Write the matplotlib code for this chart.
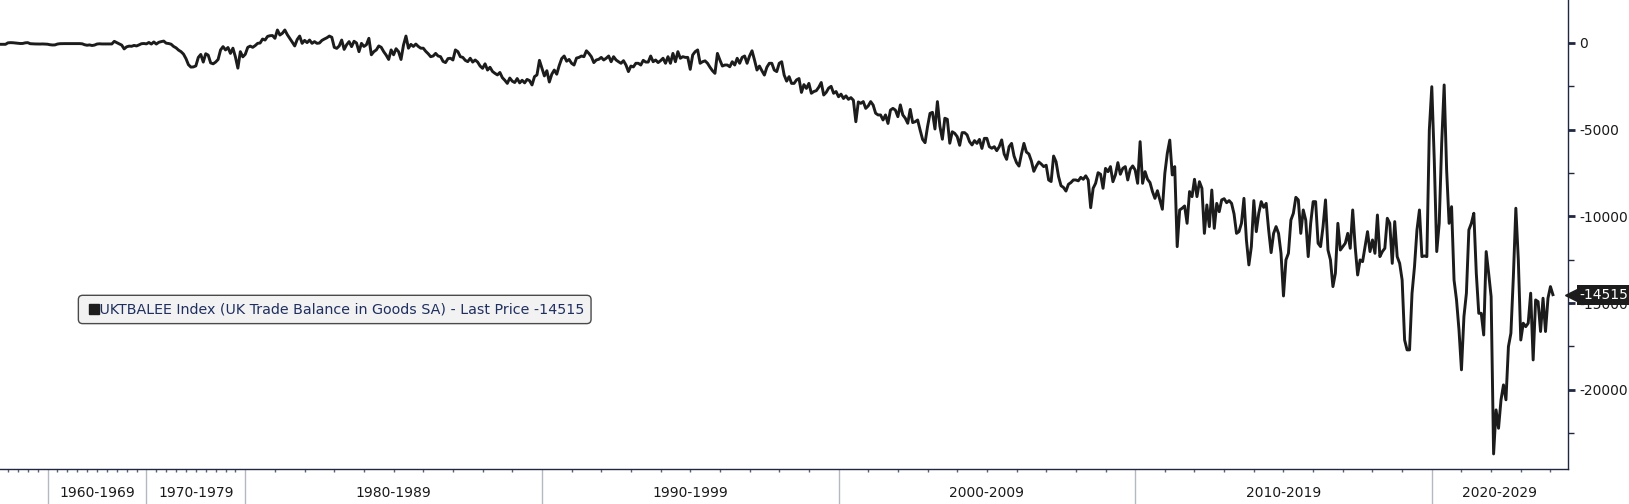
import numpy as np
import matplotlib.pyplot as plt

plt.rcParams['axes.unicode_minus'] = False
plt.rcParams['font.family'] = ['DejaVu Sans']

# quarterly values 1955Q1 - 1979Q4
q_1955_1979 = [-75, -75, -70, -75, 10, 20, 15, 0, -20, -30, -25, 10, 20,
               -40, -50, -55, -60, -60, -55, -60, -70, -100, -115, -110,
               -60, -40, -35, -35, -35, -40, -35, -35, -40, -35, -45,
               -100, -130, -110, -145, -120, -60, -45, -55, -55, -60, -55, -55,
               95, 20, -50, -120, -340, -220, -180, -190, -140, -170, -110, -40, -30, -50,
               30, -60, 60, -60, 40, 80, 110, -10, -30, -70,
               -200, -280, -410, -500, -640, -900, -1250, -1390, -1380, -1320,
               -830, -660, -1100, -620, -700, -1150, -1200, -1100, -950, -400,
               -210, -400, -260, -600, -300, -800, -1450, -500, -800]

# monthly values from 1980-01
m_1980s = [-650, -250, -180, -250, -150, -20, 0, 230, 170, 380, 420, 430,
           270, 750, 460, 560, 750, 480, 270, 50, -170, 200, 400, -20,
           150, 20, 170, -20, 80, -20, 0, 150, 230, 300, 400, 330,
           -250, -310, -170, 170, -370, -100, 80, -210, 100, 0, -500, -20,
           -200, -100, 270, -680, -500, -400, -170, -250, -500, -700, -950, -400,
           -680, -330, -500, -950, -120, 400, -300, -80, -200, -60, -200, -300,
           -300, -480, -620, -790, -750, -600, -750, -790, -1060, -1130, -900, -880,
           -980, -400, -500, -790, -830, -1000, -1076, -880, -1100, -980, -1100, -1330,
           -1460, -1200, -1560, -1400, -1640, -1750, -1840, -1700, -2000, -2150, -2330, -2020,
           -2200, -2280, -2050, -2300, -2150, -2300, -2100, -2170, -2420, -1940, -1840, -1000]
m_1990s = [-1450, -1900, -1600, -2250, -1800, -1560, -1800, -1300, -900, -750, -1050, -950,
           -1170, -1270, -870, -830, -750, -790, -450, -600, -790, -1130, -980, -940,
           -830, -980, -880, -750, -1080, -790, -980, -1080, -1170, -1020, -1270, -1650,
           -1330, -1380, -1170, -1170, -1270, -1000, -1100, -1100, -750, -1080, -980, -1130,
           -1020, -880, -1170, -790, -1170, -600, -1080, -500, -880, -790, -830, -830,
           -1520, -690, -500, -400, -1170, -1080, -1030, -1170, -1400, -1600, -1750, -600,
           -980, -1330, -1270, -1270, -1370, -1080, -1270, -880, -1170, -830, -750, -1170,
           -750, -450, -980, -1560, -1330, -1600, -1850, -1400, -1170, -1170, -1560, -1650,
           -1170, -1080, -1850, -2200, -1940, -2330, -2330, -2130, -2050, -2850, -2400, -2620,
           -2330, -2900, -2800, -2750, -2550, -2280, -3000, -2850, -2600, -2500, -2900, -2800]
m_2000s = [-3100, -2950, -3200, -3050, -3250, -3150, -3300, -4540, -3400, -3480, -3380, -3770,
           -3630, -3380, -3580, -4050, -4150, -4150, -4440, -4150, -4640, -3870, -3770, -3870,
           -4250, -3570, -4150, -4340, -4630, -3830, -4590, -4540, -4440, -5020, -5560, -5750,
           -4830, -4060, -4000, -4960, -3380, -4800, -5550, -4340, -4400, -5780, -5120, -5210,
           -5400, -5900, -5170, -5170, -5300, -5690, -5880, -5630, -5790, -5560, -6080, -5500,
           -5500, -5980, -6070, -5980, -6210, -5980, -5590, -6400, -6710, -5980, -5790, -6520,
           -6900, -7100, -6400, -5790, -6290, -6400, -6800, -7400, -7100, -6860, -6980, -7130,
           -7050, -7900, -7990, -6520, -6850, -7700, -8230, -8330, -8540, -8150, -8050, -7900,
           -7900, -7950, -7750, -7860, -7660, -7900, -9500, -8380, -8090, -7480, -7570, -8380,
           -7230, -7420, -7130, -8000, -7610, -6900, -7570, -7230, -7130, -7900, -7280, -7090]
m_2010s = [-7324, -8093, -5690, -8093, -7420, -7860, -8050, -8570, -8960, -8520, -9050, -9590,
           -7520, -6360, -5600, -7610, -7130, -11745, -9630, -9530, -9400, -10400, -8570, -8860,
           -7860, -8860, -8000, -8380, -10980, -9340, -10590, -8480, -10690, -9250, -9730, -9050,
           -8980, -9210, -9090, -9250, -9860, -10980, -10880, -10400, -8960, -11360, -12800, -11745,
           -9090, -10880, -9820, -9150, -9480, -9250, -10780, -12090, -10980, -10590, -10980, -12130,
           -14590, -12510, -12130, -10210, -9820, -8900, -9050, -10980, -9630, -10210, -12320, -10400,
           -9150, -9150, -11550, -11745, -10590, -9050, -11940, -12510, -14050, -13280, -10400, -11940,
           -11745, -11550, -10980, -11840, -9630, -11745, -13380, -12510, -12610, -11745, -10880, -12030,
           -11360, -12130, -9920, -12320, -12030, -11840, -10110, -10400, -12710, -10300, -12320, -12710,
           -13670, -17130, -17700, -17700, -14440, -12900, -10780, -9630, -12320, -12280, -12320, -5020]
m_2020s = [-2520, -6750, -12030, -10400, -5790, -2420, -7320, -10400, -9440, -13670, -14820, -16550,
           -18850, -15780, -14430, -10780, -10400, -9820, -13280, -15590, -15590, -16840, -12030, -13280,
           -14630, -23700, -21160, -22220, -20580, -19720, -20580, -17510, -16740, -13470, -9530, -12510,
           -17130, -16160, -16360, -16160, -14430, -18280, -14820, -14920, -16640, -14720, -16640, -14720,
           -14050, -14515]

decade_starts = [1960, 1970, 1980, 1990, 2000, 2010, 2020]
decade_labels = ['1960-1969', '1970-1979', '1980-1989', '1990-1999',
                 '2000-2009', '2010-2019', '2020-2029']
y_ticks = [0, -5000, -10000, -15000, -20000]
legend_text = 'UKTBALEE Index (UK Trade Balance in Goods SA) - Last Price -14515'

values = np.array(q_1955_1979 + m_1980s + m_1990s + m_2000s + m_2010s + m_2020s)
pos = np.arange(len(values))          # bloomberg style: one slot per observation
n_q = len(q_1955_1979)


def year_pos(y):
    if y < 1980:
        return 4 * (y - 1955)
    return n_q + 12 * (y - 1980)


navy = '#1f2840'
fig = plt.figure(figsize=(16.29, 5.04), dpi=100)
ax = fig.add_axes([0, 35 / 504, 1568 / 1629, 469 / 504])
ax.plot(pos, values, color='#1c1c1c', lw=2.1)

x_right = 635.1
ax.set_xlim(0.77, x_right)
ax.set_ylim(-24570, 2480)

for s in ['top', 'left']:
    ax.spines[s].set_visible(False)
for s in ['right', 'bottom']:
    ax.spines[s].set_color(navy)
    ax.spines[s].set_linewidth(1.0)

# y axis on the right
ax.yaxis.tick_right()
ax.set_yticks(y_ticks)
ax.set_yticklabels([str(v) for v in y_ticks])
ax.set_yticks([-2500, -7500, -12500, -17500, -22500], minor=True)
ax.tick_params(axis='y', which='major', length=5, width=2, color=navy,
               labelsize=10, pad=3, labelcolor='#1a1a1a')
ax.tick_params(axis='y', which='minor', length=4, width=1, color=navy)

# x axis: decade separators + yearly ticks
dec_pos = [year_pos(d) for d in decade_starts]
years = [y for y in range(1956, 2025) if y % 10 != 0]
ax.set_xticks(dec_pos)
ax.set_xticklabels([])
ax.set_xticks([year_pos(y) for y in years], minor=True)
ax.tick_params(axis='x', which='major', length=26, width=1, color='#b4b8c0')
ax.tick_params(axis='x', which='minor', length=2.5, width=1, color='#5a6078')

for i, lab in enumerate(decade_labels):
    x0 = dec_pos[i]
    x1 = dec_pos[i + 1] if i + 1 < len(dec_pos) else x_right
    ax.text((x0 + x1) / 2, -0.052, lab, transform=ax.get_xaxis_transform(),
            ha='center', va='center', fontsize=10, color='#1a1a1a')

# last price tag
last = values[-1]
tr = ax.get_yaxis_transform()
ax.plot([1.003], [last], marker='<', ms=11, color='#1c1c1c', transform=tr,
        clip_on=False, zorder=5)
ax.text(1.0075, last, f'{last}', transform=tr, ha='left', va='center', fontsize=10,
        color='white', clip_on=False, zorder=6,
        bbox=dict(boxstyle='square,pad=0.22', fc='#1c1c1c', ec='none'))

# legend box
fig.text(0.0525, 0.386, '   ' + legend_text, ha='left', va='center', fontsize=10.3,
         color='#1f2f5f', zorder=3,
         bbox=dict(boxstyle='round,pad=0.5,rounding_size=0.3', fc='#f2f2f2',
                   ec='#4a4a4a', lw=1))
fig.add_artist(plt.Line2D([0.0575], [0.386], marker='s', ms=7, color='#1c1c1c',
                          transform=fig.transFigure, zorder=10))

fig.savefig('out.png', dpi=100, facecolor='white')
